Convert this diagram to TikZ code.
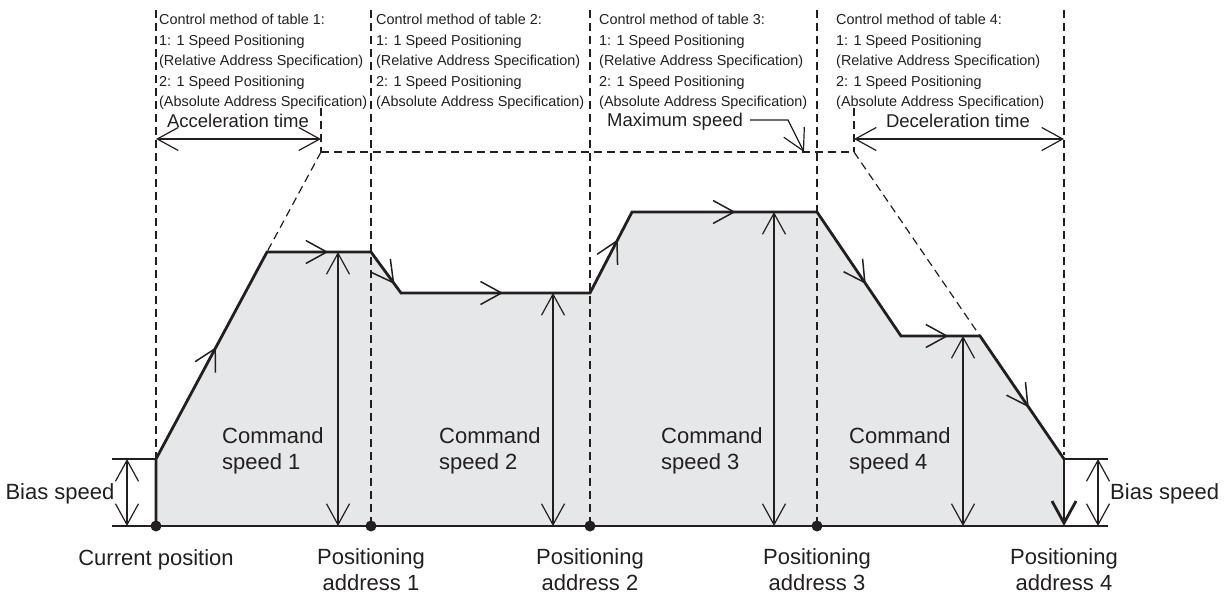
\documentclass[tikz,border=0pt]{standalone}
\usepackage{fontspec}
\setmainfont{Liberation Sans}
\usetikzlibrary{arrows.meta,calc}
\definecolor{fillgray}{RGB}{230,231,232}
\definecolor{ink}{RGB}{35,31,32}
\begin{document}
\begin{tikzpicture}[x=1pt,y=-1pt,
  curve/.style={line width=2.8pt,draw=ink,line join=miter},
  dashline/.style={draw=ink,line width=1.2pt,dash pattern=on 8pt off 5pt},
  thin/.style={draw=ink,line width=1.2pt},
  barb/.tip={Straight Barb[length=21pt,width=23pt,line width=1.2pt]},
  dbl/.style={thin,barb-barb},
  midarr/.style={draw=ink,line width=1.3pt,-{Straight Barb[length=21pt,width=23pt,line width=1.5pt]}},
  tabtext/.style={anchor=base west,inner sep=0pt,align=left,font=\fontsize{14.4}{20.4}\selectfont,text=ink},
  midtext/.style={inner sep=0pt,font=\fontsize{18.5}{22}\selectfont,text=ink},
  bigtext/.style={inner sep=0pt,font=\fontsize{22}{26}\selectfont,text=ink},
  dot/.style={circle,fill=ink,inner sep=0pt,minimum size=11pt}
]
\useasboundingbox (0,0) rectangle (1224,593);
% key points
\coordinate (P0) at (156,526);
\coordinate (B0) at (156,459);
\coordinate (A1) at (267,252);
\coordinate (A2) at (371,252);
\coordinate (A3) at (401,293);
\coordinate (A4) at (590,293);
\coordinate (A5) at (632,212);
\coordinate (A6) at (817,212);
\coordinate (A7) at (901,336);
\coordinate (A8) at (980,336);
\coordinate (A9) at (1064,459);
\coordinate (P9) at (1064,526);
\coordinate (Q2) at (371,526);
\coordinate (Q3) at (590,526);
\coordinate (Q4) at (817,526);
\coordinate (AccTop) at (321,152);
\coordinate (DecTop) at (854,152);
% fill
\fill[fillgray] (P0)--(B0)--(A1)--(A2)--(A3)--(A4)--(A5)--(A6)--(A7)--(A8)--(A9)--(P9)--cycle;
% vertical dashed lines
\draw[dashline] (156,10) -- (B0);
\draw[dashline] (371,10) -- (Q2);
\draw[dashline] (590,10) -- (Q3);
\draw[dashline] (817,10) -- (Q4);
\draw[dashline] (1064,10) -- (1064,455);
% acceleration / deceleration construction
\draw[dashline] (321,108) -- (AccTop);
\draw[dashline] (AccTop) -- (A1);
\draw[dashline] (AccTop) -- (DecTop);
\draw[dashline] (854,108) -- (DecTop);
\draw[dashline] (DecTop) -- (A8);
\coordinate (AccL) at (156,139);
\coordinate (AccR) at (321,139);
\coordinate (DecL) at (854,139);
\coordinate (DecR) at (1064,139);
\draw[dbl] (AccL) -- (AccR);
\draw[dbl] (DecL) -- (DecR);
% maximum speed leader
\coordinate (M0) at (750,120);
\coordinate (M1) at (788,120);
\coordinate (M2) at (804,152);
\draw[thin,-barb] (M0) -- (M1) -- (M2);
% baseline
\draw[ink,line width=1.5pt] (112,526) -- (1108,526);
% bias speed
\draw[thin] (112,459) -- (B0);
\draw[dbl] (127,459) -- (127,526);
\draw[thin] (A9) -- (1108,459);
\draw[dbl] (1098,459) -- (1098,526);
% command speed arrows
\draw[dbl] (338,252) -- (338,526);
\draw[dbl] (553,293) -- (553,526);
\draw[dbl] (774,212) -- (774,526);
\draw[dbl] (963,336) -- (963,526);
% direction arrows along the curve
\draw[midarr] (B0) -- ($(B0)!0.54!(A1)$);
\draw[midarr] (A1) -- ($(A1)!0.59!(A2)$);
\draw[midarr] (A2) -- ($(A2)!0.78!(A3)$);
\draw[midarr] (A3) -- ($(A3)!0.54!(A4)$);
\draw[midarr] (A4) -- ($(A4)!0.66!(A5)$);
\draw[midarr] (A5) -- ($(A5)!0.56!(A6)$);
\draw[midarr] (A6) -- ($(A6)!0.58!(A7)$);
\draw[midarr] (A7) -- ($(A7)!0.60!(A8)$);
\draw[midarr] (A8) -- ($(A8)!0.58!(A9)$);
% speed curve
\draw[curve] (P0) -- (B0) -- (A1) -- (A2) -- (A3) -- (A4) -- (A5) -- (A6) -- (A7) -- (A8) -- (A9);
\draw[curve,-{Straight Barb[length=22pt,width=24pt,line width=2.8pt]}] (A9) -- (P9);
% dots
\node[dot] (d0) at (P0) {};
\node[dot] (d1) at (Q2) {};
\node[dot] (d2) at (Q3) {};
\node[dot] (d3) at (Q4) {};
% table texts (base = last line)
\node[tabtext] (t1) at (159,106.6) {Control method of table 1:\\1: 1 Speed Positioning\\(Relative Address Specification)\\2: 1 Speed Positioning\\(Absolute Address Specification)};
\node[tabtext] (t2) at (376,106.6) {Control method of table 2:\\1: 1 Speed Positioning\\(Relative Address Specification)\\2: 1 Speed Positioning\\(Absolute Address Specification)};
\node[tabtext] (t3) at (599,106.6) {Control method of table 3:\\1: 1 Speed Positioning\\(Relative Address Specification)\\2: 1 Speed Positioning\\(Absolute Address Specification)};
\node[tabtext] (t4) at (836,106.6) {Control method of table 4:\\1: 1 Speed Positioning\\(Relative Address Specification)\\2: 1 Speed Positioning\\(Absolute Address Specification)};
% labels
\node[midtext,anchor=base] (acc) at (238,128) {Acceleration time};
\node[midtext,anchor=base] (dec) at (958,128) {Deceleration time};
\node[midtext,anchor=base west] (max) at (607,127) {Maximum speed};
\node[bigtext,anchor=base west,align=left] (c1) at (222,470) {Command\\speed 1};
\node[bigtext,anchor=base west,align=left] (c2) at (439,470) {Command\\speed 2};
\node[bigtext,anchor=base west,align=left] (c3) at (661,470) {Command\\speed 3};
\node[bigtext,anchor=base west,align=left] (c4) at (849,470) {Command\\speed 4};
\node[bigtext,anchor=base] (bl) at (60,500) {Bias speed};
\node[bigtext,anchor=base west] (br) at (1110,500) {Bias speed};
\node[bigtext,anchor=base] (cp) at (156,565) {Current position};
\node[bigtext,anchor=base,align=center] (pa1) at (371,590) {Positioning\\address 1};
\node[bigtext,anchor=base,align=center] (pa2) at (590,590) {Positioning\\address 2};
\node[bigtext,anchor=base,align=center] (pa3) at (817,590) {Positioning\\address 3};
\node[bigtext,anchor=base,align=center] (pa4) at (1064,590) {Positioning\\address 4};
\end{tikzpicture}
\end{document}
